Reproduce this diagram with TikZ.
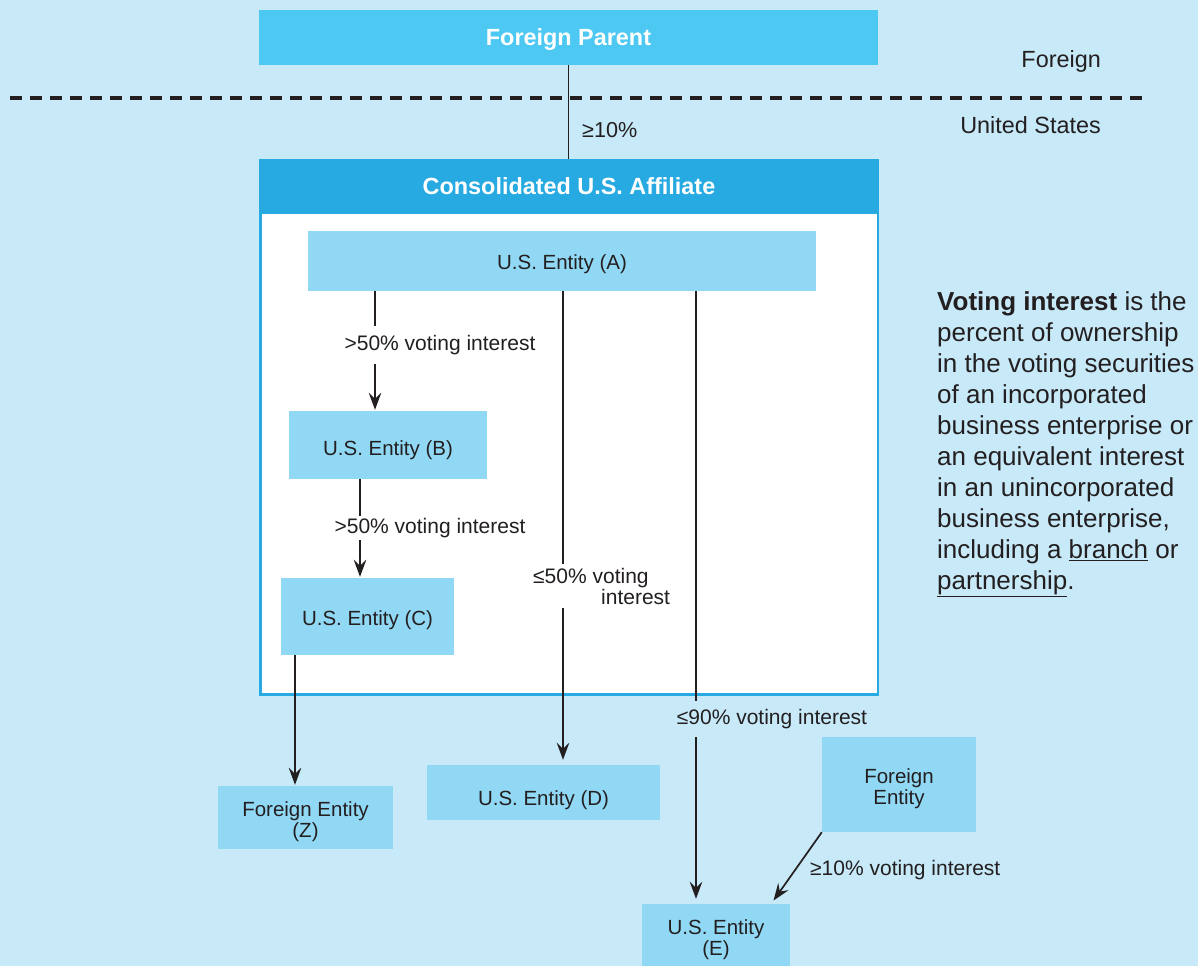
\documentclass[tikz,border=0pt]{standalone}
\usepackage{fontspec}
\setmainfont{Liberation Sans}
\usetikzlibrary{arrows.meta}
\definecolor{bgblue}{RGB}{199,233,248}
\definecolor{parentblue}{RGB}{76,200,242}
\definecolor{hdrblue}{RGB}{38,170,225}
\definecolor{entblue}{RGB}{145,216,245}
\definecolor{ink}{RGB}{35,31,32}
\newcommand\lowerby[1]{\rule{0pt}{#1pt}}
\begin{document}
\begin{tikzpicture}[x=1pt,y=-1pt,
  every node/.style={text=ink},
  ebox/.style={fill=entblue, inner sep=0pt, align=center, font=\fontsize{20.5}{21}\selectfont},
  topbox/.style={inner sep=0pt, text=white, font=\bfseries\fontsize{23.4}{24}\selectfont},
  lab/.style={inner sep=0pt, font=\fontsize{21}{21}\selectfont},
  conn/.style={draw=ink, line width=1.7pt},
  arr/.style={conn, -{Stealth[length=17pt,width=12.5pt,inset=6pt]}},
]
\fill[bgblue] (0,0) rectangle (1198,966);
\useasboundingbox (0,0) rectangle (1198,966);

% Foreign / United States divide
\node[topbox, fill=parentblue, minimum width=619pt, minimum height=55pt] (fp) at (568.5,37.5) {\lowerby{21}Foreign Parent};
\draw[ink, line width=4pt, dash pattern=on 12pt off 8pt] (10,98) -- (1146,98);
\node[lab, font=\fontsize{23.4}{24}\selectfont, anchor=east] (lforeign) at (1101,61) {Foreign};
\node[lab, font=\fontsize{23.4}{24}\selectfont, anchor=east] (lus) at (1101,125) {United States};

% Consolidated affiliate frame
\node[draw=hdrblue, line width=2.5pt, fill=white, minimum width=617.5pt, minimum height=534.5pt, inner sep=0pt] (cons) at (569,427) {};
\node[topbox, fill=hdrblue, minimum width=620pt, minimum height=54.5pt, anchor=north] (hdr) at (569,159) {Consolidated U.S. Affiliate};

\draw[conn, line width=1.5pt] (fp.south) -- (fp.south |- hdr.north);
\node[lab, font=\fontsize{21.6}{22}\selectfont, anchor=west] (l10) at (582,130) {≥10\%};

% Entities
\node[ebox, minimum width=508pt, minimum height=60pt] (a) at (562,261) {\lowerby{21}U.S. Entity (A)};
\node[ebox, minimum width=198pt, minimum height=68pt] (b) at (388,445) {\lowerby{25}U.S. Entity (B)};
\node[ebox, minimum width=173pt, minimum height=77pt] (c) at (367.5,616.5) {\lowerby{23}U.S. Entity (C)};
\node[ebox, minimum width=233pt, minimum height=55pt] (d) at (543.5,792.5) {\lowerby{30}U.S. Entity (D)};
\node[ebox, minimum width=175pt, minimum height=63pt] (z) at (305.5,817.5) {\lowerby{23}Foreign Entity\\(Z)};
\node[ebox, minimum width=148pt, minimum height=62pt] (e) at (716,935) {\lowerby{25}U.S. Entity\\(E)};
\node[ebox, minimum width=154pt, minimum height=95pt] (fe) at (899,784.5) {\lowerby{23}Foreign\\Entity};

% x positions of the vertical connectors
\coordinate (xab) at (375,0);
\coordinate (xbc) at (360,0);
\coordinate (xad) at (563,0);
\coordinate (xae) at (696,0);
\coordinate (xcz) at (295,0);

\draw[arr, shorten >=1pt] (a.south -| xab) -- (b.north -| xab);
\draw[arr, shorten >=1pt] (b.south -| xbc) -- (c.north -| xbc);
\draw[arr, shorten >=5pt] (a.south -| xad) -- (d.north -| xad);
\draw[arr, shorten >=5pt] (a.south -| xae) -- (e.north -| xae);
\draw[arr, shorten >=1pt] (c.south -| xcz) -- (z.north -| xcz);
\draw[arr, shorten >=4pt] (fe.south west) -- ([xshift=-19pt]e.north east);

% Connector labels
\node[lab, fill=white, inner xsep=1pt, inner ysep=9pt] (lab1) at (440,345) {>50\% voting interest};
\node[lab, fill=white, inner xsep=1pt, inner ysep=2pt] (lab2) at (430,528) {>50\% voting interest};
\node[lab, fill=white, inner xsep=1pt, inner ysep=4pt, align=left, anchor=west] (lab3) at (532,586) {≤50\% voting\\\hspace*{68pt}interest};
\node[lab, fill=bgblue, inner xsep=1pt, inner ysep=8pt] (lab4) at (772,719) {≤90\% voting interest};
\node[lab, anchor=west] (lab5) at (810,870) {≥10\% voting interest};

% Definition note
\node[anchor=north west, inner sep=0pt, align=left, font=\fontsize{26}{31}\selectfont] (note) at (937,291)
{\textbf{Voting interest} is the\\percent of ownership\\in the voting securities\\of an incorporated\\business enterprise or\\an equivalent interest\\in an unincorporated\\business enterprise,\\including a \underline{branch} or\\\underline{partnership}.};
\end{tikzpicture}
\end{document}
